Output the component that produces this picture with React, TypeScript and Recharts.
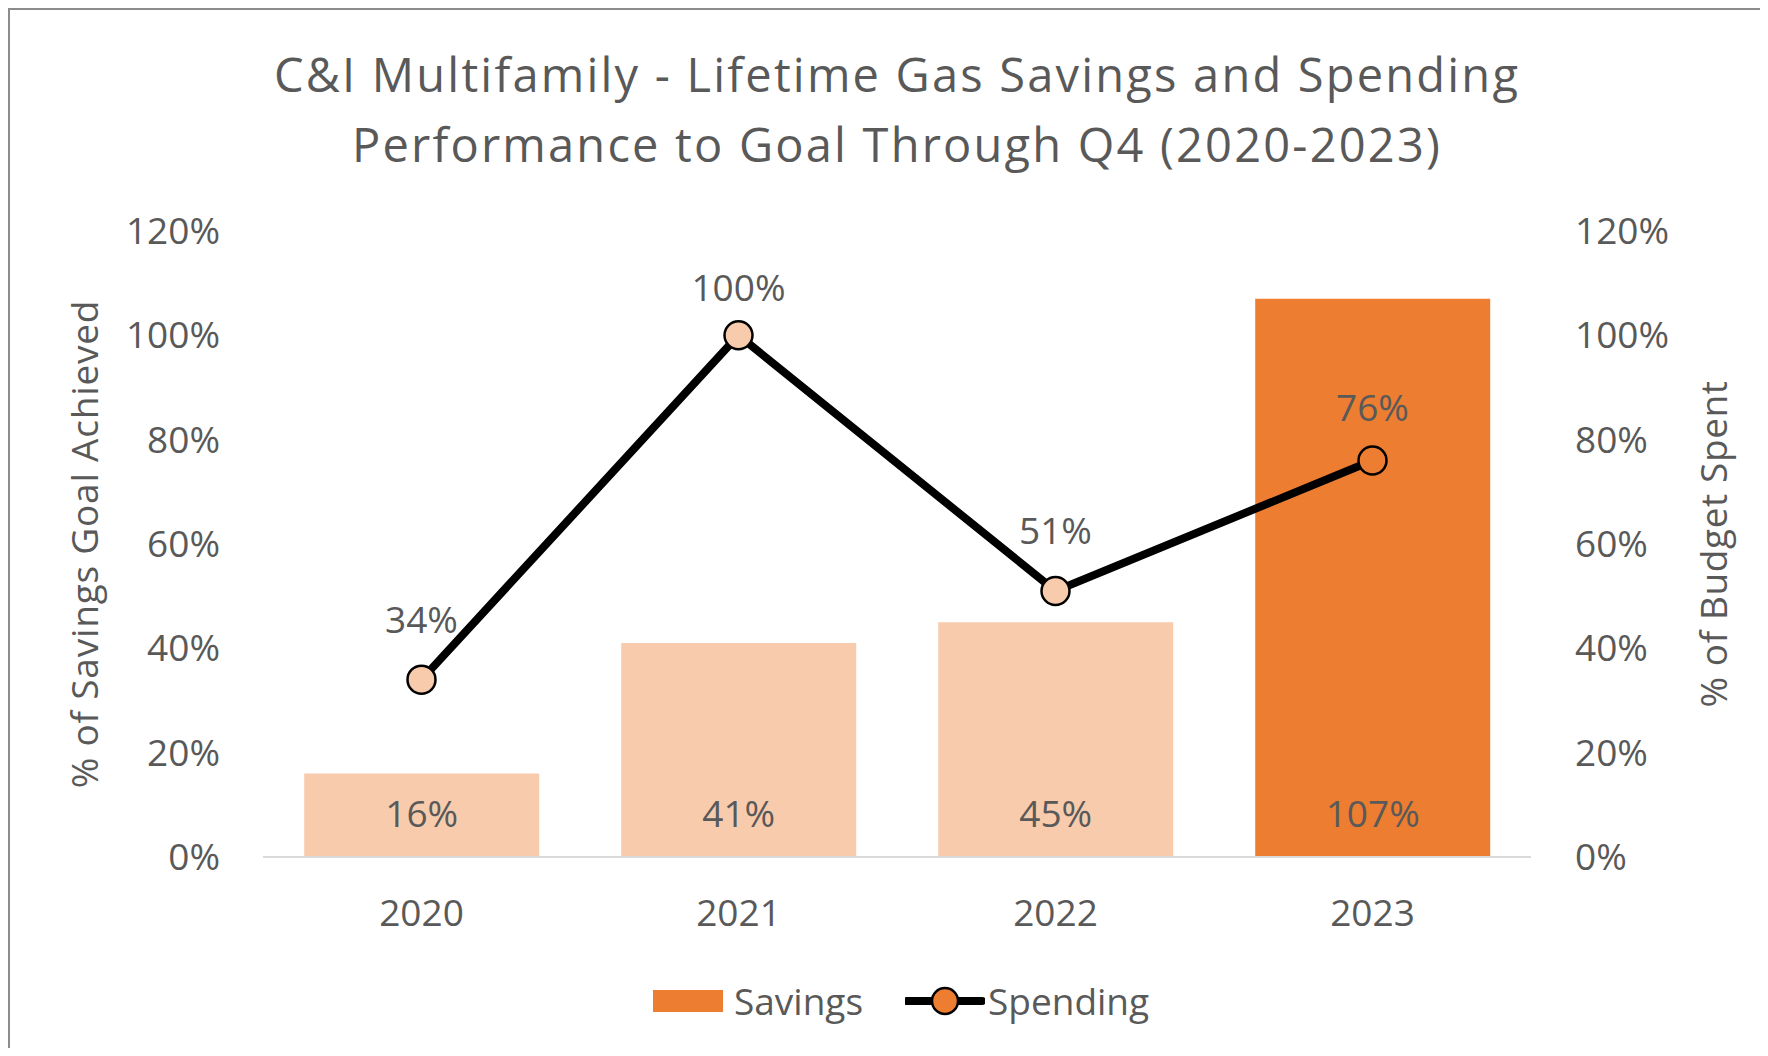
import React from 'react';
import { ComposedChart, Bar, Line, XAxis, YAxis, Legend, LabelList, Cell } from 'recharts';

const years = ['2020', '2021', '2022', '2023'];
const savings = [16, 41, 45, 107];
const spending = [34, 100, 51, 76];
const yTicks = [0, 20, 40, 60, 80, 100, 120];
const barColors = ['#F8CBAD', '#F8CBAD', '#F8CBAD', '#ED7D31'];
const dotColors = ['#F8CBAD', '#F8CBAD', '#F8CBAD', '#ED7D31'];
const spendLabelOffsets = [47, 34, 47, 40];

const data = years.map((y, i) => ({ year: y, savings: savings[i], spending: spending[i] }));

const FONT = "'Open Sans', sans-serif";
const TXT = '#595959';
const FS = 37;

const Dot = (props: any) => {
  const { cx, cy, index } = props;
  if (cx == null || cy == null) return null;
  return <circle cx={cx} cy={cy} r={14} fill={dotColors[index]} stroke="#000" strokeWidth={2.5} />;
};

const SpendLabel = (props: any) => {
  const { x, y, value, index } = props;
  if (x == null || y == null) return null;
  const off = spendLabelOffsets[index] ?? 40;
  return (
    <text x={x} y={y - off} textAnchor="middle" fill={TXT} fontSize={FS} fontFamily={FONT}>
      {`${value}%`}
    </text>
  );
};

const LegendContent = () => (
  <div style={{ position: 'relative', width: 1760, height: 60, fontFamily: FONT, fontSize: FS, color: TXT }}>
    <div style={{ position: 'absolute', left: 645, top: 19, width: 70, height: 22, background: '#ED7D31' }} />
    <div style={{ position: 'absolute', left: 726, top: 0, height: 60, lineHeight: '60px', whiteSpace: 'nowrap' }}>Savings</div>
    <svg width={80} height={40} style={{ position: 'absolute', left: 897, top: 10 }}>
      <line x1={2} y1={20} x2={77} y2={20} stroke="#000" strokeWidth={8} strokeLinecap="round" />
      <circle cx={40} cy={20} r={13} fill="#ED7D31" stroke="#000" strokeWidth={2.5} />
    </svg>
    <div style={{ position: 'absolute', left: 980, top: 0, height: 60, lineHeight: '60px', whiteSpace: 'nowrap' }}>Spending</div>
  </div>
);

export default function App() {
  return (
    <div style={{ position: 'relative', width: 1760, height: 1048, marginBottom: -8, fontFamily: FONT, overflow: 'hidden' }}>
      <div style={{ position: 'absolute', left: 0, top: 0, width: 1760, height: 1048, borderTop: '2px solid #8c8c8c', borderLeft: '2px solid #8c8c8c', boxSizing: 'border-box', zIndex: 2, pointerEvents: 'none' }} />
      <div style={{ position: 'absolute', left: 0, top: 31, width: 1760, paddingLeft: 18, boxSizing: 'border-box', textAlign: 'center', fontSize: 47, letterSpacing: '2.2px', lineHeight: '70px', color: TXT }}>
        <div>C&amp;I Multifamily - Lifetime Gas Savings and Spending</div>
        <div>Performance to Goal Through Q4 (2020-2023)</div>
      </div>
      <ComposedChart
        width={1760}
        height={1048}
        data={data}
        margin={{ top: 223, right: 0, bottom: 119, left: 0 }}
        barCategoryGap="13%"
        style={{ position: 'absolute', left: 0, top: 0 }}
      >
        <XAxis
          dataKey="year"
          height={80}
          tickLine={false}
          axisLine={{ stroke: '#d9d9d9', strokeWidth: 2 }}
          tick={{ fill: TXT, fontSize: FS, fontFamily: FONT }}
          tickSize={0}
          tickMargin={43}
        />
        <YAxis
          yAxisId="left"
          orientation="left"
          width={255}
          domain={[0, 120]}
          ticks={yTicks}
          interval={0}
          axisLine={false}
          tickLine={false}
          tickSize={0}
          tickMargin={43}
          tickFormatter={(v: number) => `${v}%`}
          tick={{ fill: TXT, fontSize: FS, fontFamily: FONT }}
          label={{ value: '% of Savings Goal Achieved', angle: -90, position: 'insideLeft', offset: 77, style: { textAnchor: 'middle', fill: TXT, fontSize: FS, fontFamily: FONT, letterSpacing: '0.8px' } }}
        />
        <YAxis
          yAxisId="right"
          orientation="right"
          width={237}
          domain={[0, 120]}
          ticks={yTicks}
          interval={0}
          axisLine={false}
          tickLine={false}
          tickSize={0}
          tickMargin={44}
          tickFormatter={(v: number) => `${v}%`}
          tick={{ fill: TXT, fontSize: FS, fontFamily: FONT }}
          label={{ value: '% of Budget Spent', angle: -90, position: 'insideRight', offset: 54, style: { textAnchor: 'middle', fill: TXT, fontSize: FS, fontFamily: FONT, letterSpacing: '0.6px' } }}
        />
        <Legend
          layout="horizontal"
          verticalAlign="middle"
          align="center"
          wrapperStyle={{ left: 0, top: 963, width: 1760, height: 60 }}
          content={<LegendContent />}
        />
        <Bar yAxisId="left" dataKey="savings" name="Savings" isAnimationActive={false}>
          {data.map((_, i) => (
            <Cell key={i} fill={barColors[i]} />
          ))}
          <LabelList dataKey="savings" position="insideBottom" offset={30} formatter={(v: any) => `${v}%`} fill={TXT} fontSize={FS} fontFamily={FONT} />
        </Bar>
        <Line
          yAxisId="right"
          dataKey="spending"
          name="Spending"
          stroke="#000"
          strokeWidth={8}
          dot={<Dot />}
          activeDot={false}
          isAnimationActive={false}
        >
          <LabelList dataKey="spending" content={<SpendLabel />} />
        </Line>
      </ComposedChart>
    </div>
  );
}
